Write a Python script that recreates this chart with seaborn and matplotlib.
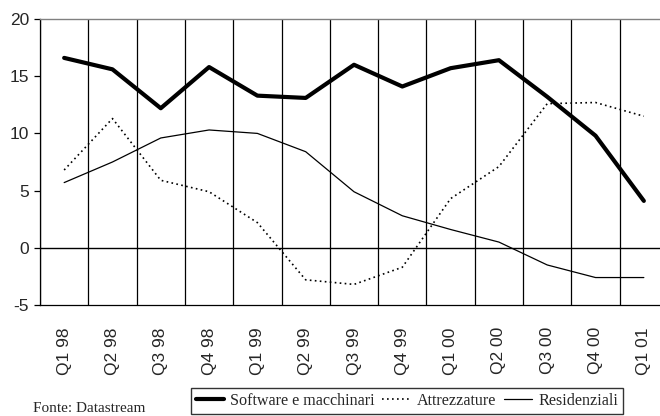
import numpy as np
import pandas as pd
import matplotlib
matplotlib.use("Agg")
import matplotlib.pyplot as plt
import seaborn as sns

quarters = ["Q1 98", "Q2 98", "Q3 98", "Q4 98", "Q1 99", "Q2 99", "Q3 99",
            "Q4 99", "Q1 00", "Q2 00", "Q3 00", "Q4 00", "Q1 01"]
software = [16.6, 15.6, 12.2, 15.8, 13.3, 13.1, 16.0, 14.1, 15.7, 16.4, 13.2, 9.8, 4.1]
attrezzature = [6.8, 11.3, 5.9, 4.9, 2.2, -2.8, -3.2, -1.7, 4.3, 7.1, 12.6, 12.7, 11.5]
residenziali = [5.7, 7.5, 9.6, 10.3, 10.0, 8.4, 4.9, 2.8, 1.6, 0.5, -1.5, -2.6, -2.6]
y_ticks = [-5, 0, 5, 10, 15, 20]

sns.set_style("white")
plt.rcParams["font.family"] = ["Liberation Sans", "DejaVu Sans"]

pos = np.arange(len(quarters))
df = pd.DataFrame({"pos": pos, "software": software,
                   "attrezzature": attrezzature, "residenziali": residenziali})

fig = plt.figure(figsize=(6.6, 4.16), dpi=100)
ax = fig.add_axes([40 / 660, 111 / 416, 628 / 660, 286 / 416])

sns.lineplot(data=df, x="pos", y="software", ax=ax, color="black", lw=3.0,
             label="Software e macchinari")
sns.lineplot(data=df, x="pos", y="attrezzature", ax=ax, color="black", lw=1.2,
             linestyle=(0, (1, 2)), label="Attrezzature")
sns.lineplot(data=df, x="pos", y="residenziali", ax=ax, color="black", lw=0.9,
             label="Residenziali")

ax.set_xlim(-0.5, len(quarters) - 0.5)
ax.set_ylim(-5, 20)
ax.set_yticks(y_ticks)
ax.set_yticklabels([str(v) for v in y_ticks], fontsize=12.5)
ax.set_xticks(pos)
ax.set_xticklabels(quarters, rotation=90, fontsize=12.5)
ax.set_xticks(np.arange(-0.5, len(quarters), 1), minor=True)
ax.grid(False)
ax.grid(which="minor", axis="x", color="black", lw=0.9)
ax.axhline(0, color="black", lw=1.0, zorder=1)
ax.tick_params(axis="x", which="both", length=0, pad=16)
ax.tick_params(axis="y", length=4, width=0.9, pad=4, left=True, color="black")
ax.set_xlabel("")
ax.set_ylabel("")

for side in ["left", "bottom"]:
    ax.spines[side].set_color("black")
    ax.spines[side].set_linewidth(0.9)
ax.spines["top"].set_color("#808080")
ax.spines["top"].set_linewidth(1.0)
ax.spines["right"].set_color("#808080")

handles, labels = ax.get_legend_handles_labels()
ax.get_legend().remove()
leg = fig.legend(handles, labels, loc="upper left",
                 bbox_to_anchor=(191 / 660, (416 - 388) / 416),
                 ncol=3, frameon=True, fancybox=False, borderaxespad=0,
                 prop={"family": "Liberation Serif", "size": 11.6},
                 handlelength=1.75, handletextpad=0.4, columnspacing=0.45,
                 borderpad=0.3)
leg.get_frame().set_edgecolor("black")
leg.get_frame().set_linewidth(1.0)

fig.text(33 / 660, 0.01, "Fonte: Datastream", family="Liberation Serif",
         fontsize=11, ha="left", va="baseline")

fig.savefig("out.png", dpi=100)
